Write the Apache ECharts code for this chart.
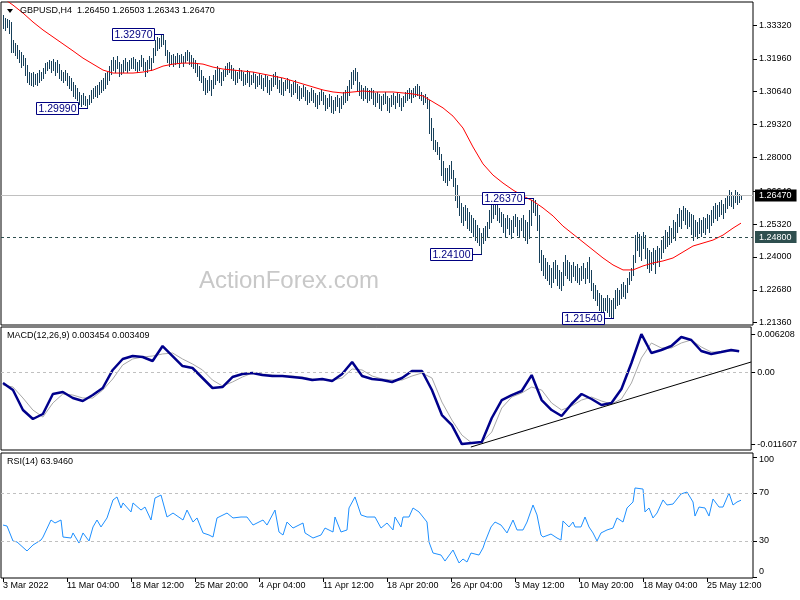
<!DOCTYPE html>
<html><head><meta charset="utf-8">
<script src="https://cdn.jsdelivr.net/npm/echarts@6/dist/echarts.min.js"></script>
<style>html,body{margin:0;padding:0;background:#fff}#c{width:800px;height:600px}</style>
</head><body><div id="c"></div>
<script>
// ---------- DATA ----------
const symbolHeader = 'GBPUSD,H4  1.26450 1.26503 1.26343 1.26470';
const macdHeader = 'MACD(12,26,9) 0.003454 0.003409';
const rsiHeader = 'RSI(14) 63.9460';
const watermark = 'ActionForex.com';

const barHigh = [
1.3372,1.3360,1.3356,1.3352,1.3344,1.3272,1.3260,1.3252,1.3232,1.3224,
1.3212,1.3199,1.3171,1.3143,1.3139,1.3143,1.3135,1.3139,1.3151,1.3143,
1.3159,1.3179,1.3183,1.3191,1.3187,1.3195,1.3183,1.3191,1.3175,1.3151,
1.3143,1.3151,1.3139,1.3127,1.3119,1.3103,1.3091,1.3079,1.3063,1.3051,
1.3059,1.3047,1.3035,1.3051,1.3071,1.3079,1.3087,1.3091,1.3103,1.3111,
1.3119,1.3139,1.3143,1.3167,1.3191,1.3203,1.3191,1.3208,1.3183,1.3175,
1.3191,1.3199,1.3183,1.3191,1.3199,1.3203,1.3195,1.3183,1.3191,1.3212,
1.3199,1.3183,1.3191,1.3208,1.3199,1.3240,1.3272,1.3284,1.3280,1.3292,
1.3297,1.3272,1.3232,1.3224,1.3212,1.3216,1.3208,1.3220,1.3212,1.3216,
1.3208,1.3224,1.3232,1.3224,1.3212,1.3199,1.3191,1.3179,1.3167,1.3151,
1.3127,1.3119,1.3111,1.3127,1.3111,1.3131,1.3151,1.3167,1.3159,1.3143,
1.3151,1.3167,1.3179,1.3183,1.3171,1.3159,1.3151,1.3143,1.3159,1.3151,
1.3143,1.3135,1.3151,1.3143,1.3131,1.3143,1.3135,1.3127,1.3139,1.3131,
1.3119,1.3135,1.3127,1.3111,1.3119,1.3135,1.3143,1.3127,1.3111,1.3119,
1.3103,1.3111,1.3119,1.3111,1.3095,1.3103,1.3111,1.3095,1.3087,1.3079,
1.3091,1.3083,1.3071,1.3063,1.3079,1.3071,1.3059,1.3051,1.3063,1.3071,
1.3063,1.3051,1.3039,1.3055,1.3047,1.3031,1.3043,1.3051,1.3039,1.3047,
1.3063,1.3071,1.3087,1.3111,1.3143,1.3151,1.3159,1.3143,1.3103,1.3091,
1.3079,1.3087,1.3079,1.3071,1.3079,1.3071,1.3059,1.3063,1.3055,1.3047,
1.3055,1.3063,1.3047,1.3039,1.3051,1.3059,1.3047,1.3063,1.3055,1.3039,
1.3047,1.3063,1.3071,1.3079,1.3071,1.3079,1.3087,1.3095,1.3087,1.3063,
1.3051,1.3055,1.3043,1.3031,1.2958,1.2918,1.2872,1.2860,1.2840,1.2812,
1.2784,1.2759,1.2759,1.2771,1.2784,1.2751,1.2719,1.2691,1.2649,1.2617,
1.2601,1.2609,1.2597,1.2581,1.2569,1.2557,1.2549,1.2529,1.2516,1.2496,
1.2516,1.2524,1.2541,1.2589,1.2617,1.2609,1.2621,1.2609,1.2597,1.2581,
1.2573,1.2557,1.2569,1.2557,1.2549,1.2565,1.2573,1.2561,1.2549,1.2557,
1.2569,1.2549,1.2541,1.2589,1.2629,1.2637,1.2629,1.2609,1.2569,1.2428,
1.2408,1.2396,1.2380,1.2368,1.2356,1.2380,1.2388,1.2368,1.2348,1.2340,
1.2380,1.2408,1.2388,1.2380,1.2368,1.2380,1.2364,1.2372,1.2356,1.2364,
1.2376,1.2356,1.2380,1.2400,1.2348,1.2296,1.2288,1.2268,1.2255,1.2247,
1.2235,1.2235,1.2247,1.2235,1.2227,1.2235,1.2268,1.2276,1.2268,1.2292,
1.2300,1.2288,1.2316,1.2340,1.2356,1.2408,1.2488,1.2500,1.2492,1.2484,
1.2500,1.2488,1.2436,1.2428,1.2420,1.2436,1.2428,1.2444,1.2436,1.2468,
1.2484,1.2508,1.2500,1.2524,1.2516,1.2549,1.2541,1.2573,1.2597,1.2589,
1.2605,1.2597,1.2589,1.2581,1.2573,1.2569,1.2549,1.2541,1.2557,1.2549,
1.2561,1.2557,1.2573,1.2569,1.2589,1.2605,1.2617,1.2609,1.2621,1.2629,
1.2613,1.2637,1.2649,1.2669,1.2661,1.2645,1.2669,1.2661,1.2653,1.26503
];
const barLow = [
1.3320,1.3312,1.3324,1.3300,1.3224,1.3224,1.3212,1.3199,1.3183,1.3163,
1.3171,1.3131,1.3103,1.3095,1.3091,1.3087,1.3095,1.3091,1.3103,1.3111,
1.3119,1.3139,1.3151,1.3159,1.3143,1.3151,1.3131,1.3143,1.3119,1.3111,
1.3103,1.3111,1.3091,1.3079,1.3071,1.3047,1.3039,1.3031,1.3015,1.3007,
1.3015,1.3011,1.2999,1.3015,1.3023,1.3039,1.3047,1.3043,1.3055,1.3063,
1.3071,1.3079,1.3095,1.3111,1.3135,1.3151,1.3143,1.3159,1.3127,1.3135,
1.3143,1.3151,1.3143,1.3151,1.3159,1.3159,1.3151,1.3143,1.3151,1.3167,
1.3151,1.3127,1.3143,1.3159,1.3151,1.3183,1.3212,1.3232,1.3240,1.3248,
1.3256,1.3212,1.3183,1.3167,1.3175,1.3167,1.3175,1.3179,1.3163,1.3183,
1.3167,1.3183,1.3191,1.3175,1.3167,1.3159,1.3143,1.3127,1.3111,1.3103,
1.3071,1.3055,1.3063,1.3071,1.3051,1.3079,1.3095,1.3111,1.3103,1.3091,
1.3111,1.3127,1.3135,1.3143,1.3119,1.3111,1.3095,1.3103,1.3119,1.3111,
1.3091,1.3095,1.3103,1.3087,1.3095,1.3103,1.3079,1.3087,1.3095,1.3079,
1.3071,1.3087,1.3063,1.3055,1.3071,1.3087,1.3095,1.3079,1.3063,1.3055,
1.3051,1.3071,1.3079,1.3063,1.3047,1.3055,1.3063,1.3039,1.3031,1.3039,
1.3047,1.3031,1.3015,1.3023,1.3031,1.3023,1.3007,1.2999,1.3015,1.3031,
1.3015,1.2991,1.2999,1.3007,1.2983,1.2979,1.2991,1.3007,1.2983,1.2999,
1.3015,1.3023,1.3031,1.3051,1.3079,1.3095,1.3111,1.3071,1.3051,1.3039,
1.3031,1.3039,1.3023,1.3031,1.3039,1.3015,1.3007,1.3023,1.2999,1.2991,
1.3015,1.3019,1.2991,1.2983,1.3007,1.3015,1.2999,1.3023,1.3007,1.2991,
1.3007,1.3023,1.3031,1.3039,1.3023,1.3043,1.3047,1.3051,1.3039,1.3031,
1.3015,1.3023,1.2999,1.2898,1.2872,1.2832,1.2824,1.2812,1.2792,1.2731,
1.2711,1.2703,1.2691,1.2711,1.2719,1.2687,1.2629,1.2601,1.2569,1.2541,
1.2529,1.2549,1.2516,1.2508,1.2500,1.2484,1.2468,1.2460,1.2448,1.2410,
1.2456,1.2468,1.2484,1.2516,1.2541,1.2557,1.2573,1.2549,1.2541,1.2524,
1.2500,1.2484,1.2516,1.2492,1.2476,1.2500,1.2524,1.2488,1.2480,1.2508,
1.2484,1.2468,1.2456,1.2476,1.2529,1.2581,1.2569,1.2508,1.2380,1.2348,
1.2328,1.2316,1.2308,1.2292,1.2280,1.2300,1.2316,1.2288,1.2276,1.2268,
1.2288,1.2328,1.2316,1.2308,1.2300,1.2324,1.2308,1.2300,1.2292,1.2308,
1.2316,1.2296,1.2316,1.2300,1.2268,1.2235,1.2227,1.2207,1.2187,1.2179,
1.2171,1.2187,1.2179,1.2163,1.2159,1.2154,1.2195,1.2207,1.2211,1.2235,
1.2243,1.2235,1.2259,1.2292,1.2308,1.2328,1.2380,1.2428,1.2404,1.2388,
1.2436,1.2396,1.2356,1.2340,1.2348,1.2372,1.2336,1.2380,1.2364,1.2396,
1.2420,1.2436,1.2444,1.2452,1.2460,1.2476,1.2468,1.2500,1.2524,1.2516,
1.2549,1.2533,1.2516,1.2524,1.2492,1.2468,1.2484,1.2476,1.2496,1.2484,
1.2500,1.2492,1.2516,1.2500,1.2529,1.2541,1.2557,1.2549,1.2565,1.2573,
1.2557,1.2581,1.2597,1.2609,1.2605,1.2597,1.2621,1.2613,1.2621,1.26343
];

// indicator sample positions (bar index)
const indIdx = [0,5,10,15,20,25,30,35,40,45,50,55,60,65,70,75,80,85,90,95,100,105,110,115,120,125,130,135,140,145,150,155,160,165,170,175,180,185,190,195,200,205,210,215,220,225,230,235,240,245,250,255,260,265,270,275,280,285,290,295,300,305,310,315,320,325,330,335,340,345,350,355,360,365,369];
const maVal = [
1.3441,1.3412,1.3380,1.3344,1.3312,1.3284,1.3256,1.3228,1.3199,1.3175,
1.3151,1.3139,1.3139,1.3139,1.3143,1.3151,1.3167,1.3175,1.3179,1.3179,
1.3175,1.3163,1.3155,1.3151,1.3147,1.3143,1.3135,1.3127,1.3119,1.3107,
1.3095,1.3083,1.3071,1.3063,1.3059,1.3063,1.3067,1.3063,1.3063,1.3063,
1.3059,1.3055,1.3047,1.3023,1.2999,1.2966,1.2918,1.2842,1.2774,1.2729,
1.2697,1.2669,1.2645,1.2625,1.2597,1.2565,1.2524,1.2492,1.2460,1.2428,
1.2396,1.2368,1.2348,1.2348,1.2364,1.2376,1.2384,1.2396,1.2420,1.2444,
1.2456,1.2468,1.2488,1.2516,1.2536];
const macdVal = [
-0.00170,-0.00284,-0.00607,-0.00753,-0.00672,-0.00348,-0.00316,-0.00413,-0.00462,-0.00365,
-0.00251,0.00041,0.00219,0.00267,0.00251,0.00186,0.00429,0.00267,0.00105,0.00073,
-0.00089,-0.00251,-0.00235,-0.00073,-0.00024,-0.00008,-0.00041,-0.00057,-0.00057,-0.00073,
-0.00089,-0.00122,-0.00105,-0.00138,-0.00024,0.00170,-0.00057,-0.00105,-0.00122,-0.00154,
-0.00089,0.00024,0.00024,-0.00284,-0.00689,-0.00851,-0.01159,-0.01142,-0.01126,-0.00737,
-0.00446,-0.00365,-0.00300,-0.00041,-0.00446,-0.00608,-0.00705,-0.00510,-0.00348,-0.00429,
-0.00527,-0.00494,-0.00267,0.00154,0.00621,0.00316,0.00365,0.00429,0.00575,0.00527,
0.00348,0.00300,0.00332,0.00365,0.003454];
const signalVal = [
-0.00203,-0.00235,-0.00413,-0.00608,-0.00721,-0.00494,-0.00348,-0.00365,-0.00413,-0.00413,
-0.00284,-0.00105,0.00122,0.00219,0.00251,0.00267,0.00300,0.00316,0.00219,0.00138,
0.00041,-0.00122,-0.00219,-0.00154,-0.00073,-0.00008,-0.00024,-0.00041,-0.00057,-0.00057,
-0.00073,-0.00105,-0.00122,-0.00122,-0.00089,0.00057,0.00041,-0.00057,-0.00105,-0.00122,
-0.00122,-0.00057,-0.00008,-0.00089,-0.00478,-0.00770,-0.01013,-0.01142,-0.01126,-0.00964,
-0.00575,-0.00397,-0.00332,-0.00235,-0.00284,-0.00494,-0.00608,-0.00543,-0.00446,-0.00397,
-0.00462,-0.00510,-0.00429,-0.00170,0.00235,0.00478,0.00397,0.00397,0.00478,0.00527,
0.00413,0.00332,0.00332,0.00348,0.003409];
const rsiIdx = [0,2,5,7,12,15,19,20,24,26,29,30,34,35,38,40,43,45,47,49,52,55,57,59,60,64,65,69,71,74,76,79,80,82,85,90,92,95,97,100,103,105,107,112,115,119,122,125,130,132,136,138,140,142,145,150,151,155,159,161,165,166,169,172,173,176,177,179,182,186,189,192,195,196,199,200,203,205,208,212,213,215,219,221,225,228,230,232,234,238,240,241,244,246,249,252,255,257,260,262,265,267,269,270,274,277,279,280,283,285,286,289,291,293,295,297,299,302,305,307,310,312,315,316,317,320,321,323,325,327,330,332,335,339,342,345,346,348,351,353,355,358,360,363,365,367,369];
const rsiVal = [43.3,42.5,30.0,29.2,21.7,26.7,30.8,33.3,47.5,45.0,47.5,33.3,32.5,36.7,28.3,36.7,30.0,41.7,47.5,41.7,49.2,64.2,66.7,57.5,61.7,54.2,61.7,55.8,58.3,47.5,65.8,68.3,69.2,50.0,53.3,47.5,55.8,45.8,49.2,36.7,35.0,33.3,49.2,53.3,49.2,50.0,50.0,43.3,47.5,43.3,55.8,37.5,35.0,45.8,40.8,45.0,36.7,32.5,35.0,40.8,37.5,50.0,37.5,39.2,57.5,66.7,68.3,51.7,50.0,50.0,40.8,45.0,39.2,50.0,41.7,50.0,50.0,57.5,54.2,45.8,29.2,20.0,18.3,13.3,22.5,11.7,15.0,12.5,20.0,18.3,24.2,29.2,41.7,45.8,43.3,36.7,47.5,39.2,39.2,45.8,60.0,51.7,35.0,33.3,35.8,32.5,30.8,46.7,41.7,45.8,41.7,41.7,50.0,41.7,36.7,30.0,36.7,39.2,40.8,49.2,45.8,57.5,62.5,74.2,74.2,73.3,54.2,57.5,49.2,53.3,64.2,60.0,60.8,69.2,70.8,62.5,50.8,58.3,57.5,50.8,65.0,58.3,58.3,70.0,60.0,62.5,63.946];

const trendIdx = [234.5, 375];
const trendVal = [-0.01207, 0.0017];

const annIdx = [80, 42, 265, 239, 305];
const annPrice = [1.3297, 1.2999, 1.2637, 1.2410, 1.2154];

const lastPrice = 1.2647;
const levelPrice = 1.2480;

const priceTicks = [1.3332,1.3196,1.3064,1.2932,1.2800,1.2664,1.2532,1.2400,1.2268,1.2136];
const macdTicks = [0.006208, 0, -0.011607];
const rsiTicks = [100, 70, 30, 0];
const rsiLevels = [70, 30];
const timeTickIdx = [0,32,64,96,128,160,192,224,256,288,320,352];
const timeTickLabels = ['3 Mar 2022','11 Mar 04:00','18 Mar 12:00','25 Mar 20:00','4 Apr 04:00','11 Apr 12:00','18 Apr 20:00','26 Apr 04:00','3 May 12:00','10 May 20:00','18 May 04:00','25 May 12:00'];

// ---------- CHART ----------
const FONT = '"Liberation Sans", Arial, sans-serif';
const chart = echarts.init(document.getElementById('c'), null, {renderer:'canvas'});

const gridBase = {show:true, borderColor:'#000', borderWidth:1, backgroundColor:'rgba(0,0,0,0)'};
const grids = [
  Object.assign({left:1, top:2, width:752, height:323}, gridBase),
  Object.assign({left:1, top:327, width:752, height:123}, gridBase),
  Object.assign({left:1, top:453, width:752, height:125}, gridBase)
];

function xAx(k){
  const shown = k === 2;
  return {type:'value', gridIndex:k, min:-1, max:375, show:shown, position:'bottom',
    axisLine:{show:false, onZero:false}, splitLine:{show:false},
    axisTick:{show:shown, customValues:timeTickIdx, length:4, lineStyle:{color:'#000'}},
    axisLabel:{show:shown, customValues:timeTickIdx, formatter:v=>timeTickLabels[timeTickIdx.indexOf(v)],
      align:'left', margin:3, fontFamily:FONT, fontSize:9, color:'#000'}};
}
function yAx(k, min, max, ticks, fmt, rich){
  return {type:'value', gridIndex:k, position:'right', min:min, max:max, scale:true,
    splitLine:{show:false}, axisLine:{show:false, onZero:false},
    axisTick:{show:true, customValues:ticks, length:4, lineStyle:{color:'#000'}},
    axisLabel:{customValues:ticks, formatter:fmt, margin:6, fontFamily:FONT, fontSize:9, color:'#000', rich:rich||{}}};
}

const barData = barHigh.map((h,i)=>[i, h, barLow[i]]);
const pair = (xs, ys) => xs.map((x,k)=>[x, ys[k]]);

const option = {
  animation:false,
  backgroundColor:'#fff',
  grid:grids,
  xAxis:[xAx(0), xAx(1), xAx(2)],
  yAxis:[
    yAx(0, 1.21267, 1.34245, priceTicks, v=>v.toFixed(5)),
    yAx(1, -0.01255, 0.00737, macdTicks, v=>v===0?'0.00':v.toFixed(6)),
    yAx(2, -0.83, 103.33, rsiTicks, v=>v===100?'{t|100}':(v===0?'{b|0}':String(v)),
        {t:{padding:[6,0,0,0], fontFamily:FONT, fontSize:9, color:'#000'},
         b:{padding:[0,0,10,0], fontFamily:FONT, fontSize:9, color:'#000'}})
  ],
  graphic:[
    {type:'text', x:289, y:281, z:0, silent:true,
      style:{text:watermark, font:'24px "Liberation Sans"', fill:'#c8c8c8', align:'center', verticalAlign:'middle'}},
    {type:'polygon', z:10, shape:{points:[[7,9],[13,9],[10,13]]}, style:{fill:'#000'}},
    {type:'text', x:20, y:11, z:10, style:{text:symbolHeader, font:'9px "Liberation Sans"', fill:'#000', verticalAlign:'middle'}},
    {type:'text', x:7, y:336, z:10, style:{text:macdHeader, font:'9px "Liberation Sans"', fill:'#000', verticalAlign:'middle'}},
    {type:'text', x:7, y:462, z:10, style:{text:rsiHeader, font:'9px "Liberation Sans"', fill:'#000', verticalAlign:'middle'}}
  ],
  series:[
    {type:'custom', xAxisIndex:0, yAxisIndex:0, data:barData, z:3, silent:true,
      renderItem:(p, api)=>{
        const a = api.coord([api.value(0), api.value(1)]);
        const b = api.coord([api.value(0), api.value(2)]);
        const x = Math.round(a[0]) + 0.5;
        return {type:'line', shape:{x1:x, y1:Math.round(a[1]), x2:x, y2:Math.round(b[1])+1},
          style:{stroke:'#17405a', lineWidth:1}};
      }},
    {type:'line', xAxisIndex:0, yAxisIndex:0, data:pair(indIdx, maVal), showSymbol:false, z:4, silent:true,
      lineStyle:{color:'#ff0000', width:1},
      markLine:{symbol:'none', silent:true, animation:false, precision:5,
        data:[
          {yAxis:lastPrice, lineStyle:{color:'#c0c0c0', type:'solid', width:1},
            label:{show:true, position:'end', distance:2, formatter:lastPrice.toFixed(5), backgroundColor:'#000', color:'#fff',
              padding:[2,5,1,4], fontFamily:FONT, fontSize:9}},
          {yAxis:levelPrice, lineStyle:{color:'#2f4f4f', type:[3,3], width:1},
            label:{show:true, position:'end', distance:2, formatter:levelPrice.toFixed(5), backgroundColor:'#2f4f4f', color:'#fff',
              padding:[2,5,1,4], fontFamily:FONT, fontSize:9}}
        ]}},
    {type:'custom', xAxisIndex:0, yAxisIndex:0, data:pair(annIdx, annPrice), z:6, silent:true,
      renderItem:(p, api)=>{
        const c = api.coord([api.value(0), api.value(1)]);
        const x = Math.round(c[0]) + 1, y = Math.round(c[1]) + 0.5;
        const w = 42, h = 12, off = 10;
        return {type:'group', children:[
          {type:'line', shape:{x1:x-off, y1:y, x2:x, y2:y}, style:{stroke:'#000080', lineWidth:1}},
          {type:'rect', shape:{x:x-off-w+0.5, y:y-h/2, width:w, height:h}, style:{fill:'#fff', stroke:'#000080', lineWidth:1}},
          {type:'text', x:x-off-w/2+0.5, y:y+0.5, style:{text:api.value(1).toFixed(5), fill:'#000080', font:'10.5px "Liberation Sans"', align:'center', verticalAlign:'middle'}}
        ]};
      }},
    {type:'line', xAxisIndex:1, yAxisIndex:1, data:pair(indIdx, signalVal), showSymbol:false, z:3, silent:true,
      lineStyle:{color:'#a8a8a8', width:1},
      markLine:{symbol:'none', silent:true, animation:false, precision:6, label:{show:false},
        data:[{yAxis:0, lineStyle:{color:'#c0c0c0', type:[3,3], width:1}}]}},
    {type:'line', xAxisIndex:1, yAxisIndex:1, data:pair(indIdx, macdVal), showSymbol:false, z:4, silent:true,
      lineStyle:{color:'#00008b', width:2.5}},
    {type:'line', xAxisIndex:1, yAxisIndex:1, data:pair(trendIdx, trendVal), showSymbol:false, z:5, silent:true,
      lineStyle:{color:'#000', width:1}},
    {type:'line', xAxisIndex:2, yAxisIndex:2, data:pair(rsiIdx, rsiVal), showSymbol:false, z:4, silent:true,
      lineStyle:{color:'#1e90ff', width:1},
      markLine:{symbol:'none', silent:true, animation:false, precision:2, label:{show:false},
        data:rsiLevels.map(v=>({yAxis:v, lineStyle:{color:'#c0c0c0', type:[3,3], width:1}}))}}
  ]
};
chart.setOption(option);
</script>
</body></html>
